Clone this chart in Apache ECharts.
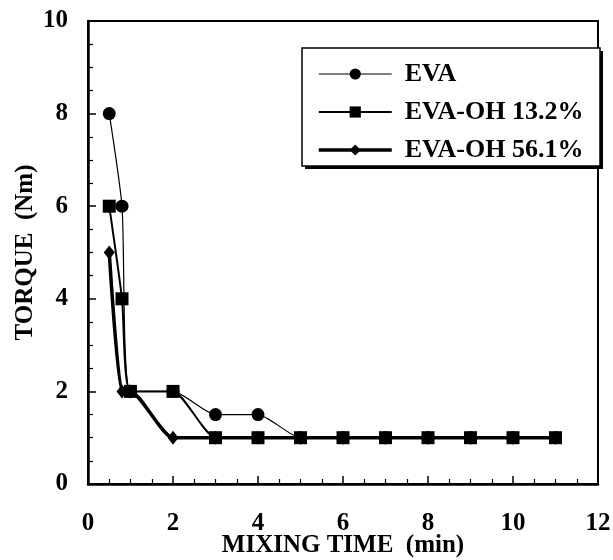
<!DOCTYPE html>
<html>
<head>
<meta charset="utf-8">
<script src="https://cdn.jsdelivr.net/npm/echarts@6/dist/echarts.min.js"></script>
<style>
    html, body { margin: 0; padding: 0; background: #fff; }
    #main { width: 613px; height: 560px; }
</style>
</head>
<body>
<div id="main"></div>
<script>
// mixing time (min) and torque (Nm)
var evaTime = [0.5, 0.8, 1, 2, 3, 4, 5, 6, 7, 8, 9, 10, 11];
var evaTorque = [8, 6, 2, 2, 1.5, 1.5, 1, 1, 1, 1, 1, 1, 1];

var oh132Time = [0.5, 0.8, 1, 2, 3, 4, 5, 6, 7, 8, 9, 10, 11];
var oh132Torque = [6, 4, 2, 2, 1, 1, 1, 1, 1, 1, 1, 1, 1];

var oh561Time = [0.5, 0.8, 1, 2, 3, 4, 5, 6, 7, 8, 9, 10, 11];
var oh561Torque = [5, 2, 2, 1, 1, 1, 1, 1, 1, 1, 1, 1, 1];

var seriesNames = ['EVA', 'EVA-OH 13.2%', 'EVA-OH 56.1%'];
var lineWidths = [1.2, 2, 3.5];

function pairs(xs, ys) {
    var out = [];
    for (var i = 0; i < xs.length; i++) {
        out.push([xs[i], ys[i]]);
    }
    return out;
}

var font = 'Liberation Serif';

var chart = echarts.init(document.getElementById('main'));

var option = {
    animation: false,
    backgroundColor: '#fff',
    grid: {
        left: 88,
        right: 15,
        top: 21,
        bottom: 76,
        outerBoundsMode: 'none',
        show: true,
        borderColor: '#000',
        borderWidth: 2
    },
    // legend frame with its offset shadow
    graphic: [
        {
            type: 'rect',
            z: 10,
            shape: { x: 305, y: 51, width: 298, height: 118 },
            style: { fill: '#000' }
        },
        {
            type: 'rect',
            z: 11,
            shape: { x: 302, y: 48, width: 298, height: 118 },
            style: { fill: '#fff', stroke: '#000', lineWidth: 1.5 }
        }
    ],
    legend: {
        orient: 'vertical',
        left: 302,
        top: 48,
        z: 12,
        data: seriesNames.map(function (n, i) {
            return { name: n, lineStyle: { width: lineWidths[i] } };
        }),
        itemWidth: 73,
        itemHeight: 14,
        itemGap: 12,
        padding: [13, 14, 14, 15],
        textStyle: {
            fontFamily: font,
            fontWeight: 'bold',
            fontSize: 26,
            color: '#000',
            lineHeight: 24,
            padding: [0, 0, 0, 8]
        }
    },
    xAxis: {
        type: 'value',
        min: 0,
        max: 12,
        interval: 2,
        name: 'MIXING TIME  (min)',
        nameLocation: 'middle',
        nameGap: 49,
        nameMoveOverlap: false,
        nameTextStyle: {
            fontFamily: font,
            fontWeight: 'bold',
            fontSize: 25,
            color: '#000'
        },
        axisLine: { lineStyle: { color: '#000', width: 2.5 } },
        axisTick: { inside: true, length: 8, lineStyle: { color: '#000', width: 1.5 } },
        minorTick: { show: true, splitNumber: 4, length: 5, lineStyle: { color: '#000', width: 1.2 } },
        splitLine: { show: false },
        axisLabel: {
            margin: 27,
            fontFamily: font,
            fontWeight: 'bold',
            fontSize: 25,
            color: '#000'
        }
    },
    yAxis: {
        type: 'value',
        min: 0,
        max: 10,
        interval: 2,
        name: 'TORQUE  (Nm)',
        nameLocation: 'middle',
        nameGap: 50,
        nameMoveOverlap: false,
        nameTextStyle: {
            fontFamily: font,
            fontWeight: 'bold',
            fontSize: 25,
            color: '#000'
        },
        axisLine: { lineStyle: { color: '#000', width: 2.5 } },
        axisTick: { inside: true, length: 8, lineStyle: { color: '#000', width: 1.5 } },
        minorTick: { show: true, splitNumber: 4, length: 5, lineStyle: { color: '#000', width: 1.2 } },
        splitLine: { show: false },
        axisLabel: {
            margin: 20,
            fontFamily: font,
            fontWeight: 'bold',
            fontSize: 25,
            color: '#000'
        }
    },
    series: [
        {
            name: seriesNames[0],
            type: 'line',
            data: pairs(evaTime, evaTorque),
            smooth: 0.2,
            symbol: 'circle',
            symbolSize: 13,
            z: 2,
            itemStyle: { color: '#000' },
            lineStyle: { color: '#000', width: lineWidths[0] }
        },
        {
            name: seriesNames[2],
            type: 'line',
            data: pairs(oh561Time, oh561Torque),
            smooth: 0.2,
            symbol: 'diamond',
            symbolSize: [11, 14],
            z: 3,
            itemStyle: { color: '#000' },
            lineStyle: { color: '#000', width: lineWidths[2] }
        },
        {
            name: seriesNames[1],
            type: 'line',
            data: pairs(oh132Time, oh132Torque),
            smooth: 0.2,
            symbol: 'rect',
            symbolSize: 13,
            z: 4,
            itemStyle: { color: '#000' },
            lineStyle: { color: '#000', width: lineWidths[1] }
        }
    ]
};

chart.setOption(option);
</script>
</body>
</html>
